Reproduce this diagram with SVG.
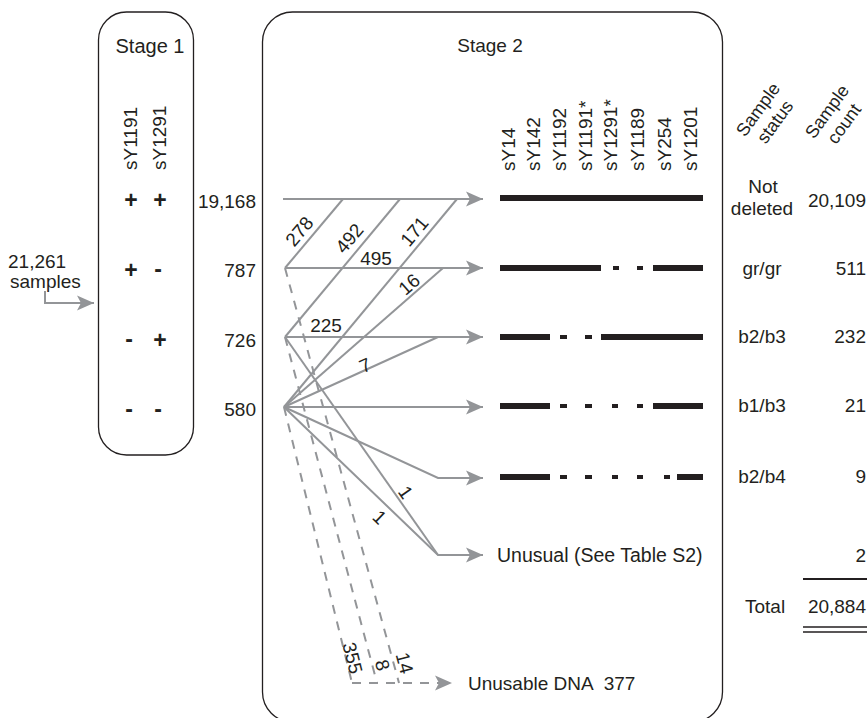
<svg xmlns="http://www.w3.org/2000/svg" width="867" height="718" viewBox="0 0 867 718">
<defs>
<style>
.t{font-family:"Liberation Sans",Arial,sans-serif;font-size:19px;fill:#231f20}
.m{text-anchor:middle}
.e{text-anchor:end}
.pm{font-family:"Liberation Sans",Arial,sans-serif;font-size:23px;font-weight:bold;fill:#231f20;text-anchor:middle}
.box{fill:none;stroke:#231f20;stroke-width:1.3}
.g{fill:none;stroke:#939598;stroke-width:2}
.d{stroke-dasharray:9 8}
.ar{marker-end:url(#ah)}
.bar{fill:#231f20}
.k{stroke:#231f20;fill:none}
</style>
<marker id="ah" viewBox="-18 -8 20 16" refX="0" refY="0" markerWidth="20" markerHeight="16" markerUnits="userSpaceOnUse" orient="auto">
<path d="M0,0 L-17,-7.5 L-13,0 L-17,7.5 Z" fill="#939598"/>
</marker>
</defs>
<rect width="867" height="718" fill="#ffffff"/>

<g id="input">
<text class="t" x="8" y="268">21,261</text>
<text class="t" x="10" y="288">samples</text>
</g>

<g id="stage1">
<rect class="box" x="98.5" y="12" width="95" height="443" rx="28"/>
<text class="t m" x="150" y="53" style="font-size:20px">Stage 1</text>
<text class="t" transform="translate(137,170) rotate(-90)">sY1191</text>
<text class="t" transform="translate(166,170) rotate(-90)">sY1291</text>
<text class="pm" x="131" y="208">+</text><text class="pm" x="160" y="208">+</text>
<text class="pm" x="131" y="278">+</text><text class="pm" x="158" y="277">-</text>
<text class="pm" x="129" y="347">-</text><text class="pm" x="160" y="348">+</text>
<text class="pm" x="129" y="417">-</text><text class="pm" x="158" y="417">-</text>
</g>

<g id="stage1-counts">
<text class="t e" x="256" y="208">19,168</text>
<text class="t e" x="256" y="277">787</text>
<text class="t e" x="256" y="347">726</text>
<text class="t e" x="256" y="416">580</text>
</g>

<g id="stage2">
<rect class="box" x="262.5" y="12" width="460" height="710" rx="30"/>
<text class="t m" x="490" y="52">Stage 2</text>
<text class="t" transform="translate(515,171) rotate(-90)">sY14</text>
<text class="t" transform="translate(540,171) rotate(-90)">sY142</text>
<text class="t" transform="translate(566,171) rotate(-90)">sY1192</text>
<text class="t" transform="translate(592,171) rotate(-90)">sY1191*</text>
<text class="t" transform="translate(617,171) rotate(-90)">sY1291*</text>
<text class="t" transform="translate(644,171) rotate(-90)">sY1189</text>
<text class="t" transform="translate(671,171) rotate(-90)">sY254</text>
<text class="t" transform="translate(697,171) rotate(-90)">sY1201</text>
</g>

<g id="bars">
<rect class="bar" x="500" y="195" width="203" height="6"/>
<rect class="bar" x="500" y="265" width="101" height="6"/>
<rect class="bar" x="613" y="266" width="6" height="4"/>
<rect class="bar" x="637" y="266" width="6" height="4"/>
<rect class="bar" x="653" y="265" width="50" height="6"/>
<rect class="bar" x="500" y="334" width="50" height="6"/>
<rect class="bar" x="560" y="335" width="7" height="4"/>
<rect class="bar" x="585" y="335" width="7" height="4"/>
<rect class="bar" x="601" y="334" width="102" height="6"/>
<rect class="bar" x="500" y="403" width="50" height="6"/>
<rect class="bar" x="560" y="404" width="7" height="4"/>
<rect class="bar" x="585" y="404" width="7" height="4"/>
<rect class="bar" x="612" y="404" width="6" height="4"/>
<rect class="bar" x="637" y="404" width="6" height="4"/>
<rect class="bar" x="653" y="403" width="50" height="6"/>
<rect class="bar" x="500" y="474" width="50" height="6"/>
<rect class="bar" x="560" y="475" width="7" height="4"/>
<rect class="bar" x="585" y="475" width="7" height="4"/>
<rect class="bar" x="612" y="475" width="6" height="4"/>
<rect class="bar" x="637" y="475" width="6" height="4"/>
<rect class="bar" x="664" y="475" width="6" height="4"/>
<rect class="bar" x="677" y="474" width="26" height="6"/>
</g>

<g id="outcomes">
<text class="t" x="497" y="562" style="font-size:19.5px">Unusual (See Table S2)</text>
<text class="t" x="468" y="690">Unusable DNA<tspan dx="10">377</tspan></text>
</g>

<g id="status-header">
<g transform="translate(763,113) rotate(-54)">
<text class="t m" x="0" y="0" style="font-size:18px">Sample</text>
<text class="t m" x="0" y="21" style="font-size:18px">status</text>
</g>
<g transform="translate(832,115) rotate(-54)">
<text class="t m" x="0" y="0" style="font-size:18px">Sample</text>
<text class="t m" x="0" y="21" style="font-size:18px">count</text>
</g>
</g>

<g id="status">
<text class="t m" x="763" y="193">Not</text>
<text class="t m" x="762" y="215">deleted</text>
<text class="t m" x="762" y="275">gr/gr</text>
<text class="t m" x="762" y="343">b2/b3</text>
<text class="t m" x="762" y="412">b1/b3</text>
<text class="t m" x="762" y="483">b2/b4</text>
<text class="t" x="745" y="613">Total</text>
</g>

<g id="counts">
<text class="t e" x="866" y="207">20,109</text>
<text class="t e" x="866" y="275">511</text>
<text class="t e" x="866" y="343">232</text>
<text class="t e" x="866" y="412">21</text>
<text class="t e" x="866" y="483">9</text>
<text class="t e" x="866" y="562">2</text>
<path class="k" d="M803,579H867" stroke-width="2"/>
<path class="k" d="M803,627H867M803,632H867" stroke-width="1.5"/>
<text class="t e" x="866" y="613">20,884</text>
</g>

<g id="connectors">
<path class="g ar" d="M45,291V303H94"/>
<path class="g ar" d="M283,199H483"/>
<path class="g ar" d="M285,268H483"/>
<path class="g ar" d="M285,337H483"/>
<path class="g ar" d="M284,407H483"/>
<path class="g ar" d="M284,407L438,478H483"/>
<path class="g ar" d="M284,407L438,555H483"/>
<path class="g" d="M285,337L438,555"/>
<path class="g" d="M285,268L343,199"/>
<path class="g" d="M285,337L400,199"/>
<path class="g" d="M284,407L457,199"/>
<path class="g" d="M284,407L443,268"/>
<path class="g" d="M284,407L438,337"/>
<path class="g d" d="M285,268L399,683"/>
<path class="g d" d="M285,337L377,683"/>
<path class="g d" d="M284,407L352,683"/>
<path class="g d ar" d="M352,683H452"/>
</g>

<g id="flow-labels">
<text class="t m" transform="translate(299,231) rotate(-50)" y="7">278</text>
<text class="t m" transform="translate(349,238) rotate(-50)" y="7">492</text>
<text class="t m" transform="translate(414,231) rotate(-50)" y="7">171</text>
<text class="t m" x="376" y="265">495</text>
<text class="t m" transform="translate(409,284) rotate(-41)" y="7">16</text>
<text class="t m" x="326" y="332">225</text>
<text class="t m" transform="translate(365,365) rotate(-24)" y="7">7</text>
<text class="t m" transform="translate(406,492) rotate(55)" y="7">1</text>
<text class="t m" transform="translate(380,517) rotate(44)" y="7">1</text>
<text class="t m" transform="translate(353,658) rotate(76)" y="7">355</text>
<text class="t m" transform="translate(383,665) rotate(75)" y="7">8</text>
<text class="t m" transform="translate(405,663) rotate(75)" y="7">14</text>
</g>
</svg>
